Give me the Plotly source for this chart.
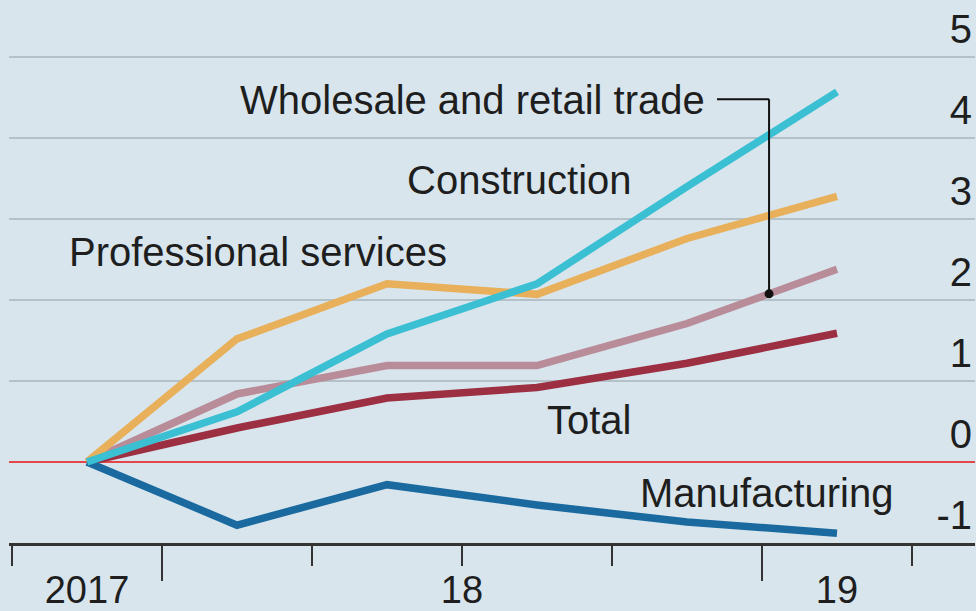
import numpy as np
import plotly.graph_objects as go

# ---- data (quarterly, % change since 2017 Q4) ----
quarters = ["2017 Q4", "2018 Q1", "2018 Q2", "2018 Q3", "2018 Q4", "2019 Q1"]
wholesale = [0, 0.62, 1.58, 2.20, 3.40, 4.57]
construction = [0, 1.52, 2.20, 2.07, 2.76, 3.28]
professional = [0, 0.84, 1.19, 1.19, 1.71, 2.38]
total = [0, 0.42, 0.79, 0.92, 1.22, 1.59]
manufacturing = [0, -0.78, -0.28, -0.53, -0.74, -0.88]

year_labels = ["2017", "18", "19"]
year_label_pos = [0, 2.5, 5]
year_bounds = [0.5, 4.5]
quarter_bounds = [-0.5, 0.5, 1.5, 2.5, 3.5, 4.5, 5.5]
y_ticks = [-1, 0, 1, 2, 3, 4, 5]
y_ticktext = ["-1", "0", "1", "2", "3", "4", "5"]

xpos = np.arange(len(quarters))

BG = "#d8e5ed"
FONT = "Liberation Sans"
TXT = "#1e1e1e"

series = [
    ("Total", total, "#9c2f42"),
    ("Professional services", professional, "#b88c98"),
    ("Construction", construction, "#e8b05a"),
    ("Manufacturing", manufacturing, "#1a6aa0"),
    ("Wholesale and retail trade", wholesale, "#3bbfd2"),
]

fig = go.Figure()
for name, vals, col in series:
    fig.add_trace(go.Scatter(x=xpos, y=vals, mode="lines", name=name,
                             line=dict(color=col, width=7.5), showlegend=False,
                             hoverinfo="skip"))

# pointer from label to the line
ptr_x = 4.547
ptr_y_top = 4.48
ptr_label_end = 4.2
ptr_y = float(np.interp(ptr_x, xpos, professional))
fig.add_shape(type="line", xref="x", yref="y", x0=ptr_label_end, x1=ptr_x,
              y0=ptr_y_top, y1=ptr_y_top, line=dict(color="#111", width=2))
fig.add_shape(type="line", xref="x", yref="y", x0=ptr_x, x1=ptr_x,
              y0=ptr_y_top, y1=ptr_y, line=dict(color="#111", width=2))
fig.add_trace(go.Scatter(x=[ptr_x], y=[ptr_y], mode="markers", xaxis="x2",
                         marker=dict(color="#111", size=9), showlegend=False,
                         hoverinfo="skip"))

labels = [
    ("Wholesale and retail trade", 4.133, 4.47, "right"),
    ("Construction", 2.12, 3.48, "left"),
    ("Professional services", -0.133, 2.59, "left"),
    ("Total", 3.053, 0.52, "left"),
    ("Manufacturing", 3.673, -0.38, "left"),
]
for txt, x, y, anc in labels:
    fig.add_annotation(x=x, y=y, xref="x", yref="y", text=txt, showarrow=False,
                       xanchor=anc, yanchor="middle",
                       font=dict(family=FONT, size=40, color=TXT))

xr = [-0.52, 5.92]
fig.update_layout(
    width=976, height=611,
    margin=dict(l=9, r=1, t=0, b=68, autoexpand=False),
    paper_bgcolor=BG, plot_bgcolor=BG,
    font=dict(family=FONT, color=TXT),
    xaxis=dict(range=xr, tickmode="array", tickvals=year_label_pos,
               ticktext=year_labels, ticks="", showgrid=False, zeroline=False,
               showline=True, linecolor="#333", linewidth=2.5,
               automargin=False,
               tickfont=dict(size=38, family=FONT, color=TXT),
               ticklabelstandoff=12,
               minor=dict(tickmode="array", tickvals=quarter_bounds,
                          ticks="outside", ticklen=20, tickwidth=2,
                          tickcolor="#333", showgrid=False)),
    xaxis2=dict(range=xr, overlaying="x", side="bottom", tickmode="array",
                tickvals=year_bounds, ticktext=["", ""], ticks="outside",
                ticklen=37, tickwidth=2, tickcolor="#333", showgrid=False,
                zeroline=False, showline=False, automargin=False),
    yaxis=dict(range=[-1, 5.704], side="right", tickmode="array",
               tickvals=y_ticks, ticktext=y_ticktext,
               ticklabelposition="inside top", ticks="",
               showgrid=True, gridcolor="#b4c1c9", gridwidth=2,
               zeroline=True, zerolinecolor="#e3474b", zerolinewidth=2,
               showline=False, automargin=False,
               tickfont=dict(size=40, family=FONT, color=TXT)),
)

fig.write_html("out.html",
               config={"displayModeBar": False},
               post_script="document.body.style.margin='0';"
                           "document.body.style.padding='0';"
                           "document.documentElement.style.overflow='hidden';")
